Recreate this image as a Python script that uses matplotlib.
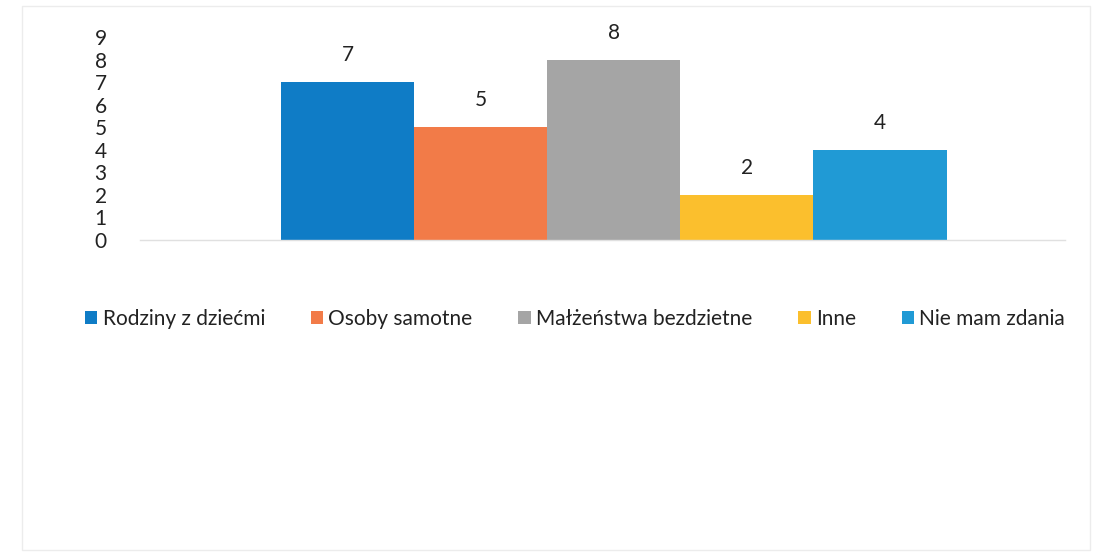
import matplotlib.pyplot as plt
from matplotlib.patches import Rectangle

plt.rcParams['font.family'] = ['Lato', 'DejaVu Sans']

# dane z wykresu
kategorie = ['Rodziny z dziećmi', 'Osoby samotne', 'Małżeństwa bezdzietne', 'Inne', 'Nie mam zdania']
wartosci = [7, 5, 8, 2, 4]
kolory = ['#0f7cc6', '#f27b48', '#a5a5a5', '#fbbf2d', '#209ad5']
yticks = list(range(0, 10))

W, H = 1108, 556
fig = plt.figure(figsize=(W / 100, H / 100), dpi=100)

# ramka wykresu (jasnoszara)
fig.patches.append(Rectangle((22 / W, 6 / H), (1090 - 22) / W, (550 - 6) / H,
                             transform=fig.transFigure, fill=False,
                             edgecolor='#ececec', linewidth=1))

ax = fig.add_axes([140 / W, 1 - 240 / H, (1065 - 140) / W, (240 - 37) / H])
x = list(range(len(wartosci)))
bars = ax.bar(x, wartosci, width=1.0, color=kolory, label=kategorie)

for b, v in zip(bars, wartosci):
    ax.text(b.get_x() + b.get_width() / 2, v + 0.75, str(v),
            ha='center', va='bottom', fontsize=15, color='#222222')

ax.set_xlim(-1.56, 5.39)
ax.set_ylim(0, 9)
ax.set_yticks(yticks)
ax.set_yticklabels([str(t) for t in yticks], fontsize=15, color='#222222')
ax.tick_params(axis='y', length=0, pad=24)
ax.set_xticks([])
for s in ['top', 'right', 'left']:
    ax.spines[s].set_visible(False)
ax.spines['bottom'].set_color('#e0e0e0')
ax.spines['bottom'].set_linewidth(1)

fig.legend(handles=bars, labels=kategorie, loc='center', ncol=5,
           bbox_to_anchor=(575 / W, 1 - 319 / H), frameon=False,
           fontsize=15, handlelength=0.6, handleheight=0.6,
           handletextpad=0.25, columnspacing=2.2, labelcolor='#222222')

fig.savefig('out.png', dpi=100, facecolor='white')
